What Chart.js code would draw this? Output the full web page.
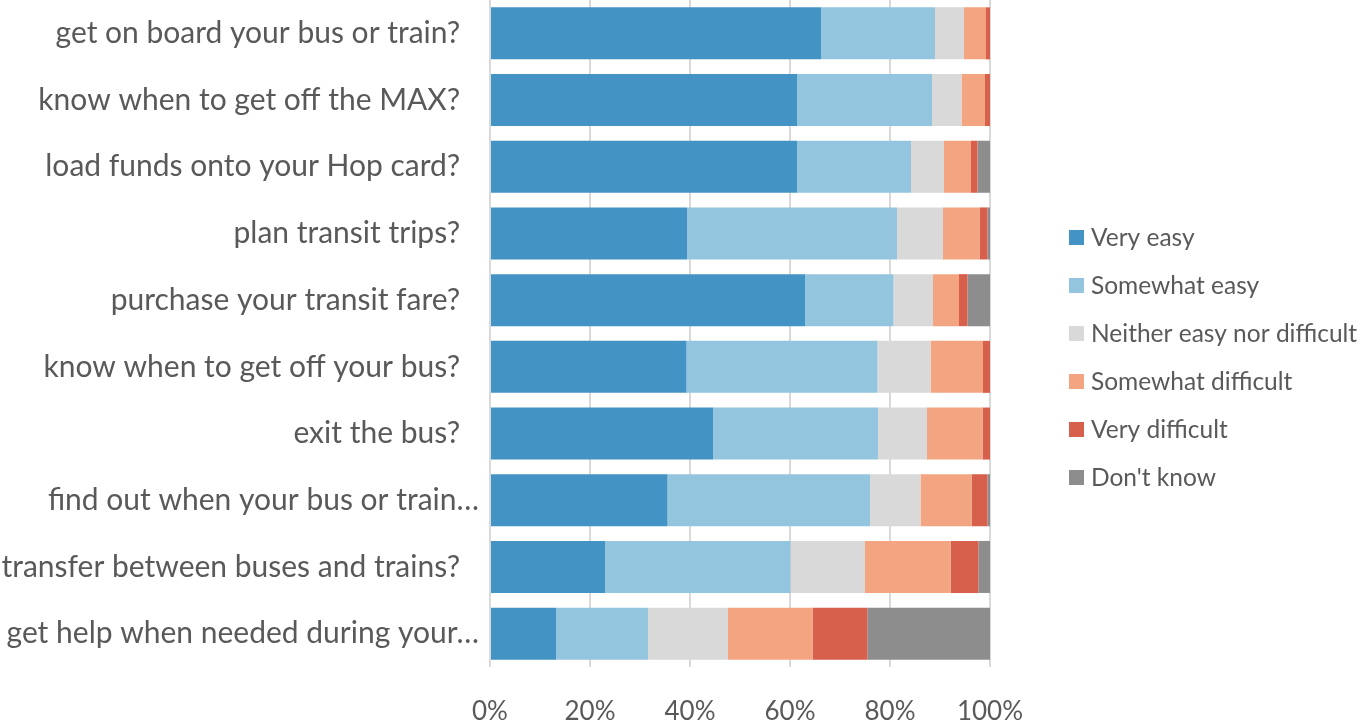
<!DOCTYPE html>
<html>
<head>
<meta charset="utf-8">
<script src="https://cdn.jsdelivr.net/npm/chart.js@4/dist/chart.umd.min.js"></script>
<style>
    html, body { margin: 0; padding: 0; background: #fff; }
    #wrap { width: 1360px; height: 721px; position: relative; }
</style>
</head>
<body>
<div id="wrap"><canvas id="chart"></canvas></div>
<script>
// ── DATA ──
const questions = [
    "get on board your bus or train?\u2002\u2009",
    "know when to get off the MAX?\u2002\u2009",
    "load funds onto your Hop card?\u2002\u2009",
    "plan transit trips?\u2002\u2009",
    "purchase your transit fare?\u2002\u2009",
    "know when to get off your bus?\u2002\u2009",
    "exit the bus?\u2002\u2009",
    "find out when your bus or train…",
    "transfer between buses and trains?\u2002\u2009",
    "get help when needed during your…"
];
const answers = ["Very easy", "Somewhat easy", "Neither easy nor difficult", "Somewhat difficult", "Very difficult", "Don't know"];
const colors  = ["#4394c4", "#93c5de", "#d9d9d9", "#f3a582", "#d7604d", "#8d8d8d"];

const veryEasy      = [66.2, 61.4, 61.4, 39.4, 63.0, 39.3, 44.6, 35.5, 23.0, 13.2];
const somewhatEasy  = [22.8, 27.0, 22.8, 42.0, 17.7, 38.2, 33.0, 40.5, 37.1, 18.4];
const neither       = [ 5.8,  5.9,  6.6,  9.2,  7.9, 10.6,  9.8, 10.1, 14.9, 16.0];
const somewhatDiff  = [ 4.4,  4.7,  5.4,  7.3,  5.2, 10.5, 11.1, 10.2, 17.1, 16.9];
const veryDiff      = [ 0.8,  1.0,  1.3,  1.6,  1.7,  1.4,  1.5,  3.2,  5.6, 11.0];
const dontKnow      = [ 0.0,  0.0,  2.5,  0.5,  4.5,  0.0,  0.0,  0.5,  2.3, 24.5];

const xTicks = [0, 20, 40, 60, 80, 100];

const TEXT = "#595959";
const FONT = "Lato, 'Open Sans', sans-serif";

// ── LEGENDE ──
const sideLegend = {
    id: "sideLegend",
    afterDraw(chart) {
        const ctx = chart.ctx;
        ctx.save();
        ctx.font = "24.5px " + FONT;
        ctx.textBaseline = "middle";
        ctx.textAlign = "left";
        chart.data.datasets.forEach((ds, i) => {
            const y = 237 + i * 48;
            ctx.fillStyle = ds.backgroundColor;
            ctx.fillRect(1069, y - 7, 15, 15);
            ctx.fillStyle = TEXT;
            ctx.fillText(ds.label, 1091, y + 1);
        });
        ctx.restore();
    }
};

const series = [veryEasy, somewhatEasy, neither, somewhatDiff, veryDiff, dontKnow];

new Chart(document.getElementById("chart"), {
    type: "bar",
    data: {
        labels: questions,
        datasets: answers.map((name, i) => ({
            label: name,
            data: series[i],
            backgroundColor: colors[i],
            borderWidth: 0,
            barPercentage: 0.78,
            categoryPercentage: 1
        }))
    },
    options: {
        indexAxis: "y",
        responsive: true,
        maintainAspectRatio: false,
        animation: false,
        layout: { padding: { top: 0, right: 370, bottom: 0, left: 0 } },
        scales: {
            x: {
                stacked: true,
                min: 0, max: 100,
                afterBuildTicks: axis => { axis.ticks = xTicks.map(v => ({ value: v })); },
                afterFit: axis => { axis.height = 54; },
                ticks: {
                    color: TEXT,
                    font: { size: 26, family: FONT },
                    padding: 29,
                    callback: v => v + "%"
                },
                grid: { color: "#d9d9d9", lineWidth: 2, drawTicks: false },
                border: { display: false }
            },
            y: {
                stacked: true,
                afterFit: axis => {
                    axis.width = 490;
                    axis.paddingTop = 0;
                    axis.paddingBottom = 0;
                },
                ticks: {
                    color: TEXT,
                    font: { size: 30, family: FONT },
                    padding: 3,
                    autoSkip: false
                },
                grid: { display: false },
                border: { display: false }
            }
        },
        plugins: {
            legend: { display: false },
            tooltip: { enabled: false }
        }
    },
    plugins: [sideLegend]
});
</script>
</body>
</html>
